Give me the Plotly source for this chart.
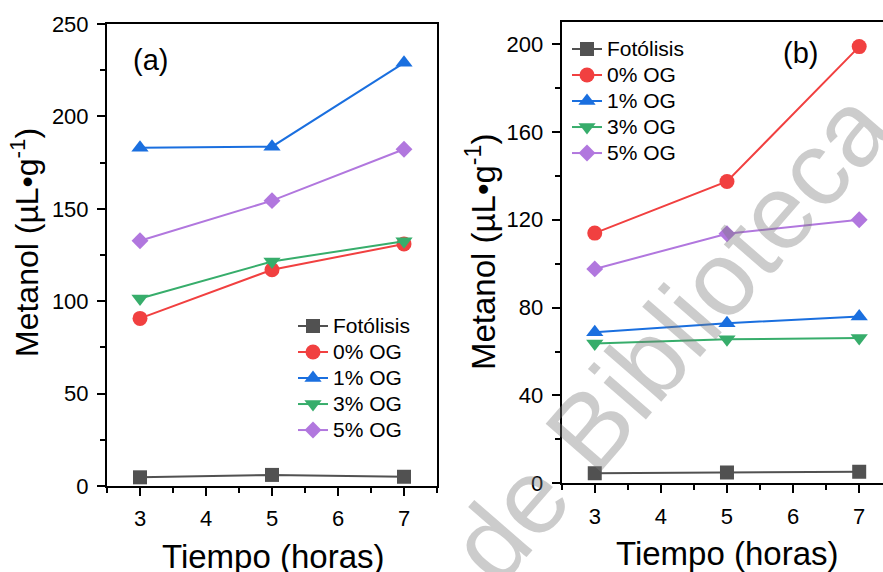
import plotly.graph_objects as go

# ---------------- data ----------------
tiempo = [3, 5, 7]
series_names = ["Fotólisis", "0% OG", "1% OG", "3% OG", "5% OG"]

# panel (a)
a_fotolisis = [4.7, 6.0, 5.0]
a_og0 = [90.7, 117.0, 131.0]
a_og1 = [183.0, 183.6, 229.0]
a_og3 = [101.5, 121.5, 132.5]
a_og5 = [132.7, 154.4, 182.2]

# panel (b)
b_fotolisis = [4.6, 4.9, 5.3]
b_og0 = [113.9, 137.4, 198.8]
b_og1 = [68.8, 72.9, 75.9]
b_og3 = [63.6, 65.6, 66.1]
b_og5 = [97.6, 113.6, 120.0]

colors = ["#515151", "#F14040", "#1A6FDF", "#37AD6B", "#B177DE"]
symbols = ["square", "circle", "triangle-up", "triangle-down", "diamond"]
sizes = [14, 15, 15, 15, 13]

FONT = "Arial, Liberation Sans, sans-serif"

fig = go.Figure()

panel_a = [a_fotolisis, a_og0, a_og1, a_og3, a_og5]
panel_b = [b_fotolisis, b_og0, b_og1, b_og3, b_og5]

def legend_label(name):
    return '<span style="font-size:21px">' + name + '</span>'

for i, ys in enumerate(panel_a):
    fig.add_trace(go.Scatter(
        x=tiempo, y=ys, name=legend_label(series_names[i]), mode="lines+markers",
        line=dict(color=colors[i], width=2),
        marker=dict(symbol=symbols[i], size=sizes[i], color=colors[i]),
        xaxis="x", yaxis="y", legend="legend"))

for i, ys in enumerate(panel_b):
    fig.add_trace(go.Scatter(
        x=tiempo, y=ys, name=legend_label(series_names[i]), mode="lines+markers",
        line=dict(color=colors[i], width=2),
        marker=dict(symbol=symbols[i], size=sizes[i], color=colors[i]),
        xaxis="x2", yaxis="y2", legend="legend2"))

W, H = 883, 572

def px(x):
    return x / W

def py(y):
    return 1 - y / H

axis_common = dict(
    showline=True, linecolor="black", linewidth=2,
    ticks="outside", ticklen=8, tickwidth=2, tickcolor="black",
    showgrid=False, zeroline=False, automargin=False,
    tickfont=dict(family=FONT, size=22, color="black"),
    ticklabelstandoff=4,
)

legend_common = dict(
    xanchor="left", yanchor="top",
    bgcolor="rgba(0,0,0,0)", borderwidth=0, itemwidth=30,
    font=dict(family=FONT, size=17.7, color="black"),
    tracegroupgap=0, itemclick=False, itemdoubleclick=False,
)

fig.update_layout(
    template="none",
    width=W, height=H,
    margin=dict(l=0, r=0, t=0, b=0, pad=0, autoexpand=False),
    paper_bgcolor="white", plot_bgcolor="white",
    font=dict(family=FONT, color="black"),
    xaxis=dict(domain=[px(107), px(437)], range=[2.5, 7.5], tick0=3, dtick=1,
               mirror=True, anchor="y",
               minor=dict(tick0=2.5, dtick=0.5, ticklen=5, tickwidth=2, tickcolor="black", ticks="outside"),
               **axis_common),
    yaxis=dict(domain=[py(486), py(24)], range=[0, 250], tick0=0, dtick=50,
               mirror=True, anchor="x",
               minor=dict(tick0=0, dtick=25, ticklen=5, tickwidth=2, tickcolor="black", ticks="outside"),
               **axis_common),
    xaxis2=dict(domain=[px(561.7), 1.0], range=[2.5, 7.36], tick0=3, dtick=1,
                mirror=True, anchor="y2",
                minor=dict(tick0=2.5, dtick=0.5, ticklen=5, tickwidth=2, tickcolor="black", ticks="outside"),
                **axis_common),
    yaxis2=dict(domain=[py(483.3), py(22)], range=[0, 210], tick0=0, dtick=40,
                mirror=False, anchor="x2",
                minor=dict(tick0=0, dtick=20, ticklen=5, tickwidth=2, tickcolor="black", ticks="outside"),
                **axis_common),
    legend=dict(x=px(293), y=py(308), **legend_common),
    legend2=dict(x=px(567), y=py(31), **legend_common),
    showlegend=True,
)

ann = []
ytitle = "Metanol (µL•g<sup>-1</sup>)"
ann.append(dict(text="Tiempo (horas)", x=px(273), y=py(556), xref="paper", yref="paper",
                showarrow=False, font=dict(family=FONT, size=33, color="black"),
                xanchor="center", yanchor="middle"))
ann.append(dict(text="Tiempo (horas)", x=px(727), y=py(553), xref="paper", yref="paper",
                showarrow=False, font=dict(family=FONT, size=33, color="black"),
                xanchor="center", yanchor="middle"))
ann.append(dict(text=ytitle, x=px(25), y=py(243), xref="paper", yref="paper",
                showarrow=False, textangle=-90, font=dict(family=FONT, size=32, color="black"),
                xanchor="center", yanchor="middle"))
ann.append(dict(text=ytitle, x=px(481), y=py(252), xref="paper", yref="paper",
                showarrow=False, textangle=-90, font=dict(family=FONT, size=33, color="black"),
                xanchor="center", yanchor="middle"))
ann.append(dict(text="(a)", x=px(150), y=py(60), xref="paper", yref="paper",
                showarrow=False, font=dict(family=FONT, size=29, color="black"),
                xanchor="center", yanchor="middle"))
ann.append(dict(text="(b)", x=px(800), y=py(53), xref="paper", yref="paper",
                showarrow=False, font=dict(family=FONT, size=29, color="black"),
                xanchor="center", yanchor="middle"))
# watermark
ann.append(dict(text="o de Biblioteca", x=px(640), y=py(370), xref="paper", yref="paper",
                showarrow=False, textangle=-49,
                font=dict(family=FONT, size=106, color="rgba(120,120,120,0.38)"),
                xanchor="center", yanchor="middle"))
fig.update_layout(annotations=ann)

fig.write_html("out.html",
               config={"displayModeBar": False},
               post_script="document.body.style.margin='0px';document.body.style.overflow='hidden';")
